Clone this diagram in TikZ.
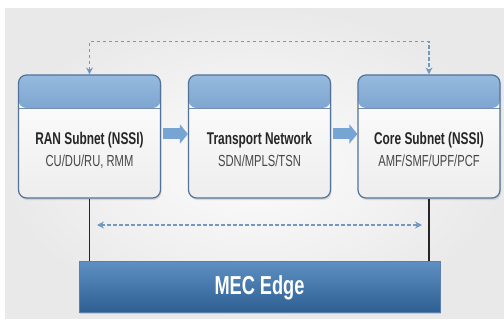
\documentclass[tikz,border=0pt]{standalone}
\usepackage{fontspec}
\setmainfont[FakeStretch=0.7]{Liberation Sans}
\usetikzlibrary{arrows.meta,shadows,positioning}
\definecolor{hdtop}{HTML}{96BADF}
\definecolor{hdbot}{HTML}{3D6FA6}
\definecolor{frameblue}{HTML}{52729A}
\definecolor{dashblue}{HTML}{7398C2}
\definecolor{pipeblue}{HTML}{76A4D3}
\definecolor{mectop}{HTML}{5E90C3}
\definecolor{mecbot}{HTML}{2E5F93}
\definecolor{ink}{HTML}{262626}
\tikzset{
  subnet/.style={draw=frameblue, line width=1.2pt, rounded corners=8pt,
    minimum width=142pt, minimum height=123pt,
    top color=white, bottom color=gray!14,
    drop shadow={opacity=0.25, shadow xshift=1pt, shadow yshift=-2pt},
    path picture={
      \shade[top color=hdtop, bottom color=hdbot]
        (path picture bounding box.north west) rectangle
        ([yshift=-33pt]path picture bounding box.north east);
      \draw[frameblue!80, line width=0.8pt]
        ([yshift=-33pt]path picture bounding box.north west) --
        ([yshift=-33pt]path picture bounding box.north east);
    }},
  headline/.style={anchor=base, text=ink, font=\bfseries\fontsize{17}{20}\selectfont},
  subline/.style={anchor=base, text=ink!85, font=\fontsize{16}{19}\selectfont},
  dashlink/.style={draw=dashblue, line width=1.2pt, dash pattern=on 3.5pt off 2.5pt,
    {Stealth[length=7pt,width=7pt]}-{Stealth[length=7pt,width=7pt]}},
  pipe/.style={draw=pipeblue, line width=11pt, -{Triangle[length=8pt,width=19pt]}},
  edgebox/.style={draw=mecbot!80, line width=0.6pt, top color=mectop, bottom color=mecbot,
    minimum width=361pt, minimum height=51pt,
    drop shadow={opacity=0.3, shadow xshift=1pt, shadow yshift=-2pt}},
  tie/.style={draw=black!85, line width=1.3pt}
}
\begin{document}
\begin{tikzpicture}[x=1pt,y=-1pt]
  \useasboundingbox (0,0) rectangle (504,329);
  \shade[inner color=gray!2, outer color=gray!17] (5,9) rectangle (504,318);

  % subnets
  \node[subnet] (ran) at (89.5,136.5) {};
  \node[subnet] (tn) at (259.5,136.5) {};
  \node[subnet] (core) at (429,136.5) {};
  \node[headline] (ranT) at (89.5,145) {RAN Subnet (NSSI)};
  \node[subline] (ranS) at (89.5,167) {CU/DU/RU, RMM};
  \node[headline] (tnT) at (259.5,145) {Transport Network};
  \node[subline] (tnS) at (259.5,167) {SDN/MPLS/TSN};
  \node[headline] (coreT) at (429,145) {Core Subnet (NSSI)};
  \node[subline] (coreS) at (429,167) {AMF/SMF/UPF/PCF};

  % edge
  \node[edgebox] (mec) at (259.5,286.5) {};
  \node[anchor=base, text=white, font=\bfseries\fontsize{26}{30}\selectfont] (mecT) at (259.5,294) {MEC Edge};

  \draw[pipe] ([xshift=2pt,yshift=2.5pt]ran.east) -- ([yshift=2.5pt]tn.west);
  \draw[pipe] ([xshift=2pt,yshift=2.5pt]tn.east) -- ([yshift=2.5pt]core.west);
  \draw[dashlink] (ran.north) -- ++(0,-33) -| (core.north);
  \draw[tie] (ran.south) -- (ran.south |- mec.north);
  \draw[tie] (core.south) -- (core.south |- mec.north);
  \coordinate (dl) at (97,225);
  \coordinate (dr) at (422,225);
  \draw[dashlink] (dl) -- (dr);
\end{tikzpicture}
\end{document}
